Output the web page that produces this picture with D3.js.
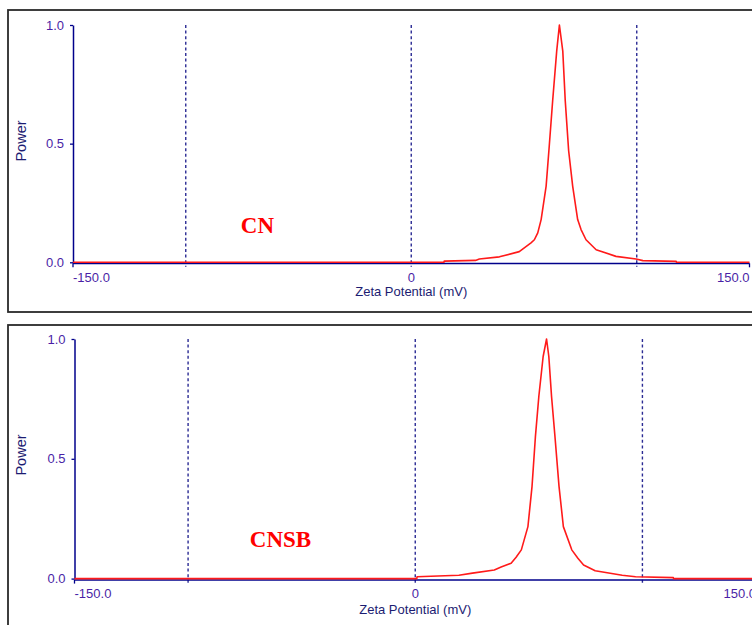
<!DOCTYPE html>
<html>
<head>
<meta charset="utf-8">
<script src="https://cdn.jsdelivr.net/npm/d3@7"></script>
<style>
  html, body { margin: 0; padding: 0; background: #fff; }
  svg { display: block; }
</style>
</head>
<body>
<script>
// Zeta potential distributions, two samples
const xTicks = [-150, 0, 150];
const xTickLabels = ["-150.0", "0", "150.0"];
const gridValues = [-100, 0, 100];
const yTicks = [0, 0.5, 1.0];
const yTickLabels = ["0.0", "0.5", "1.0"];

const sampleNames = ["CN", "CNSB"];

// CN: zeta potential (mV) vs normalised power
const cnMv = [-150, 14.5, 14.6, 28.5, 30.2, 39.1, 47.9, 53.1, 54.6, 56.1, 57.6, 59.8, 61.2, 62.7, 64.5, 65.7,
  67.2, 68.3, 69.8, 71.6, 73.8, 75.3, 77.5, 82.0, 90.8, 99.7, 102.7, 117.5, 117.6, 150];
const cnPower = [0, 0, 0.005, 0.008, 0.014, 0.023, 0.045, 0.082, 0.095, 0.124, 0.18, 0.32, 0.49, 0.68, 0.89, 1.0,
  0.89, 0.68, 0.47, 0.32, 0.18, 0.138, 0.095, 0.053, 0.025, 0.014, 0.007, 0.004, 0, 0];

// CNSB: zeta potential (mV) vs normalised power
const cnsbMv = [-150, 0.7, 0.8, 19.2, 25.2, 34.8, 37.8, 42.2, 44.4, 46.7, 49.6, 51.4, 52.9, 54.4, 56.3, 57.8,
  58.8, 60.0, 61.5, 63.3, 65.2, 68.9, 71.6, 74.1, 79.2, 91.1, 97.0, 113.6, 113.7, 150];
const cnsbPower = [0, 0, 0.008, 0.014, 0.023, 0.036, 0.048, 0.064, 0.089, 0.12, 0.217, 0.384, 0.593, 0.76, 0.927, 1.0,
  0.927, 0.76, 0.593, 0.384, 0.217, 0.12, 0.085, 0.057, 0.033, 0.014, 0.008, 0.004, 0, 0];

const W = 752, H = 625;
const svg = d3.select("body").append("svg").attr("width", W).attr("height", H);

const AXIS = "#00008b";
const TICK_TEXT = "#4a1fa6";
const TITLE_TEXT = "#1c1c72";
const GRID = "#2b2b94";
const TRACE = "#ff1a1a";

const panels = [
  { frame: [8, 10, 820, 302], xr: [73, 749.5], yr: [262.3, 25], mv: cnMv, pw: cnPower,
    name: sampleNames[0], nameAt: [-75.6, 232.5], powerY: 141, tickDy: 20, titleDy: 34 },
  { frame: [8, 325, 820, 340], xr: [74.5, 756], yr: [578.6, 339], mv: cnsbMv, pw: cnsbPower,
    name: sampleNames[1], nameAt: [-72.8, 546.5], powerY: 455, tickDy: 19.5, titleDy: 35 }
];

panels.forEach(p => {
  const g = svg.append("g");
  const x = d3.scaleLinear().domain([-150, 150]).range(p.xr);
  const y = d3.scaleLinear().domain([0, 1]).range(p.yr);
  const y0 = y(0);

  // panel frame
  g.append("rect")
    .attr("x", p.frame[0]).attr("y", p.frame[1])
    .attr("width", p.frame[2]).attr("height", p.frame[3])
    .attr("fill", "none").attr("stroke", "#2a2a2a").attr("stroke-width", 1.8);

  // dashed reference lines
  g.selectAll("line.grid").data(gridValues).join("line")
    .attr("class", "grid")
    .attr("x1", d => x(d)).attr("x2", d => x(d))
    .attr("y1", y(1)).attr("y2", y0 + 4.5)
    .attr("stroke", GRID).attr("stroke-width", 1.4)
    .attr("stroke-dasharray", "3,2.6");

  // y axis
  const yAxis = d3.axisLeft(y).tickValues(yTicks).tickSize(3)
    .tickFormat((d, i) => yTickLabels[i]).tickSizeOuter(0);
  const ga = g.append("g").attr("transform", `translate(${x(-150)},0)`).call(yAxis);
  ga.select(".domain").attr("stroke", AXIS).attr("stroke-width", 1.5);
  ga.selectAll(".tick line").attr("stroke", AXIS).attr("stroke-width", 1.3);
  ga.selectAll(".tick text")
    .attr("x", -9).attr("fill", TICK_TEXT)
    .attr("font-family", "Liberation Sans, Arial, sans-serif").attr("font-size", 13);

  // x axis
  g.append("line")
    .attr("x1", x(-150)).attr("x2", x(150))
    .attr("y1", y0 + 1.3).attr("y2", y0 + 1.3)
    .attr("stroke", AXIS).attr("stroke-width", 1.5);
  g.selectAll("line.xtick").data([-150, 150]).join("line")
    .attr("class", "xtick")
    .attr("x1", d => x(d)).attr("x2", d => x(d))
    .attr("y1", y0 + 1).attr("y2", y0 + 5)
    .attr("stroke", AXIS).attr("stroke-width", 1.3);
  g.selectAll("text.xlab").data(xTicks).join("text")
    .attr("class", "xlab")
    .attr("x", d => x(d)).attr("y", y0 + p.tickDy)
    .attr("text-anchor", (d, i) => i === 0 ? "start" : (i === xTicks.length - 1 ? "end" : "middle"))
    .attr("fill", TICK_TEXT)
    .attr("font-family", "Liberation Sans, Arial, sans-serif").attr("font-size", 13)
    .text((d, i) => xTickLabels[i]);

  g.append("text")
    .attr("x", x(0)).attr("y", y0 + p.titleDy)
    .attr("text-anchor", "middle").attr("fill", TITLE_TEXT)
    .attr("font-family", "Liberation Sans, Arial, sans-serif").attr("font-size", 13)
    .text("Zeta Potential (mV)");

  g.append("text")
    .attr("transform", `translate(26,${p.powerY}) rotate(-90)`)
    .attr("text-anchor", "middle").attr("fill", TITLE_TEXT)
    .attr("font-family", "Liberation Sans, Arial, sans-serif").attr("font-size", 14.5)
    .text("Power");

  // distribution trace
  const pts = p.mv.map((v, i) => [v, p.pw[i]]);
  const line = d3.line().x(d => x(d[0])).y(d => y(d[1]));
  g.append("path").datum(pts)
    .attr("d", line)
    .attr("fill", "none").attr("stroke", TRACE).attr("stroke-width", 1.6)
    .attr("stroke-linejoin", "round");

  // sample name
  g.append("text")
    .attr("x", x(p.nameAt[0])).attr("y", p.nameAt[1])
    .attr("fill", "#ff0000")
    .attr("font-family", "Liberation Serif, Times New Roman, serif")
    .attr("font-weight", "bold").attr("font-size", 23)
    .text(p.name);
});
</script>
</body>
</html>
